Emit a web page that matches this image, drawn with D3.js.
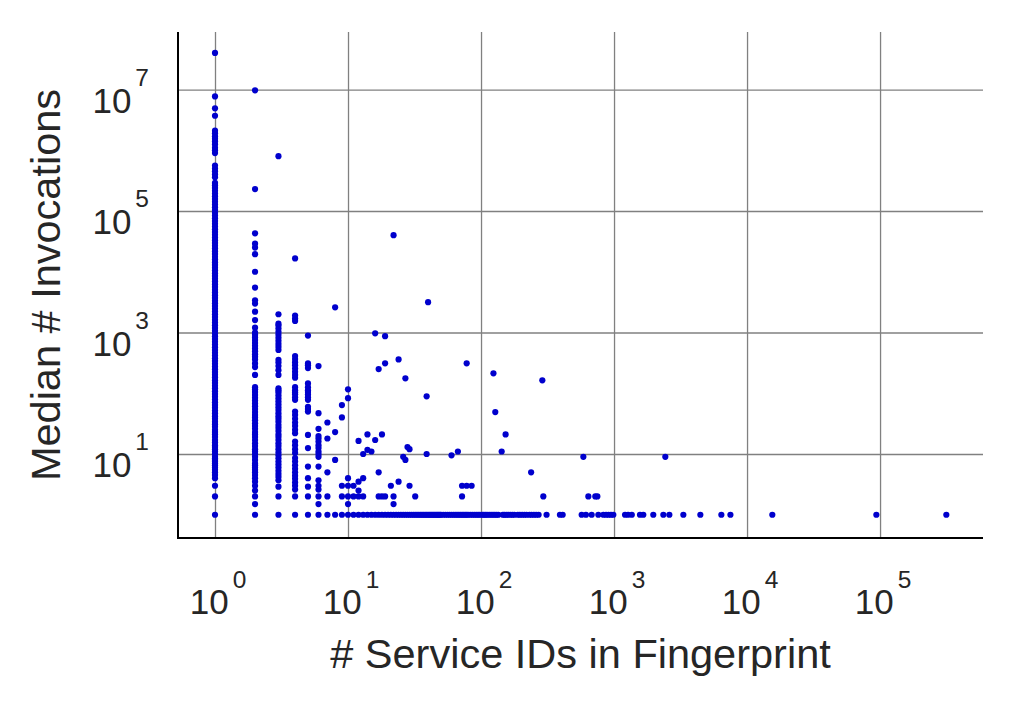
<!DOCTYPE html>
<html><head><meta charset="utf-8">
<script src="https://cdn.jsdelivr.net/npm/d3@7"></script>
<style>
body{margin:0;background:#fff;}
text{font-family:"Liberation Sans",Arial,sans-serif;fill:#262626;}
</style></head>
<body><svg id="chart" width="1012" height="708"></svg>
<script>
// ---- data ----
const xTickExps = [0, 1, 2, 3, 4, 5];
const yTickExps = [1, 3, 5, 7];

// points with y = 1 (bottom row)
const bottomRowX = [1,2,3,4,5,6,7,8,9,10,11,12,13,14,15,16,17,18,19,20,21,22,23,24,25,26,27,28,29,30,31,32,33,34,35,36,37,38,39,40,41,42,43,44,45,46,47,48,49,50,52,54,56,58,60,62,64,66,68,70,72,74,76,78,80,83,86,89,92,95,98,102,105,108,111,115,119,123,127,131,135,146,150,155,160,166,172,178,189,196,204,212,220,231,240,250,260,271,311,392,411,571,615,679,762,831,871,909,949,988,1210,1275,1360,1567,1660,1973,2348,2606,3320,4456,6410,7500,15490,93800,315000];

// columns of the small fingerprint sizes (y values above 1)
const col1Y = [2,3,4,4.5,5,5.5,6,6.5,7,7.5,8,8.5,9,10,11,12,13,14,15.5,17,19,21,23,25,28,31,34,38,42,47,52,58,64,71,79,88,97,108,120,133,148,164,182,202,224,249,276,306,340,377,418,464,515,571,634,703,780,866,961,1066,1183,1313,1457,1617,1794,1991,2209,2451,2720,3018,3349,3716,4124,4576,5078,5635,6253,6939,7700,8545,9482,10522,11676,12957,14378,15955,17705,19647,21802,24193,26846,29791,33058,36684,40707,45172,50126,55624,61725,68495,76008,84344,93595,103860,115250,127890,141920,157490,174760,193930,215000,240000,265000,290000,360000,400000,450000,500000,560000,900000,1000000,1100000,1250000,1400000,1550000,1700000,1900000,2100000,3700000,4900000,7700000,40000000];
const col2Y = [1.5,2,2.5,3,3.5,4,4.5,5,5.5,6,6.5,7,8,9,10,11,12,13.5,15,17,19,21,23,26,29,32,36,40,44,49,55,61,68,76,84,94,105,116,126,200,270,310,360,400,440,490,545,605,675,750,830,920,1000,1200,1600,2200,3000,3400,5500,10000,19500,25000,29000,43000,230000,9700000];
const col3Y = [2,2.9,3.7,4.2,4.7,5.3,6,6.7,7.5,8.5,9.5,10.6,12,13.5,15,17,19,21,24,27,30,34,38,42,47,53,59,66,74,83,93,104,112,121,200,240,280,320,355,515,580,650,730,820,920,1030,1160,1300,1400,2000,800000];
const col4Y = [2,2.6,3,3.4,3.9,4.4,5,5.7,6.5,7.5,8.6,10.4,12,14,16,22,25,29,33,38,44,50,78,86,96,104,112,126,180,200,225,255,290,325,365,410,1550,1700,1900,16600];
const col5Y = [2,2.9,4,6.2,12.5,20.6,50,55,60,78,86,95,105,112,125,145,260,290,310,890];
const col6Y = [1.5,2,2.6,3,3.7,6.2,9,10,11,12.5,14,16,18,19.7,26,47,280];

// scattered points (x, y)
const sparseX = [7,7,7,7,8,8,8,9,9,9,9,10,10,10,10,10,10,11,11,12,12,12,12,13,13,13,14,14,15,16,16,17,17,17,18,18,19,19,19,21,22,22,22,24,24,26,27,27,28,29,29,32,39,39,40,60,67,72,72,78,78,85,124,128,143,153,238,289,294,588,641,723,749,2430];
const sparseY = [2,5,18,33,8,23,2600,2,3,40,64,1.5,2,3,4,83,116,2,3,2,2.5,3.5,16.4,2,4,10,11.7,21,11,17,970,2,5,250,2,21,2,311,870,3,1.5,2,40000,3.5,360,9,8,176,13,3,12,2,10,89,3160,9.5,11,2,3,3,311,3,213,49,11,21,5,163,2,9,2,2,2,9];

const xLabel = "# Service IDs in Fingerprint";
const yLabel = "Median # Invocations";

// ---- build point list ----
const points = [];
bottomRowX.forEach(x => points.push({x, y: 1}));
[[1, col1Y], [2, col2Y], [3, col3Y], [4, col4Y], [5, col5Y], [6, col6Y]].forEach(([x, ys]) => ys.forEach(y => points.push({x, y})));
sparseX.forEach((x, i) => points.push({x, y: sparseY[i]}));

// ---- layout ----
const L = 178, R = 983, T = 32, B = 538;
const svg = d3.select("#chart");
const x = d3.scaleLog().domain([Math.pow(10, -0.2782), Math.pow(10, 5.774)]).range([L, R]);
const y = d3.scaleLog().domain([Math.pow(10, -0.3827), Math.pow(10, 7.947)]).range([B, T]);

// grid
const gx = svg.append("g").attr("transform", `translate(0,${T})`)
  .call(d3.axisBottom(x).tickValues(xTickExps.map(e => Math.pow(10, e))).tickSize(B - T).tickFormat(""));
const gy = svg.append("g").attr("transform", `translate(${R},0)`)
  .call(d3.axisLeft(y).tickValues(yTickExps.map(e => Math.pow(10, e))).tickSize(R - L).tickFormat(""));
[gx, gy].forEach(g => {
  g.select(".domain").remove();
  g.selectAll(".tick line").attr("stroke", "#808080").attr("stroke-width", 1.3);
});

// points
svg.append("g").selectAll("circle").data(points).join("circle")
  .attr("cx", d => x(d.x)).attr("cy", d => y(d.y)).attr("r", 3.1)
  .attr("fill", "#0000cd");

// spines
svg.append("line").attr("x1", L).attr("x2", L).attr("y1", T).attr("y2", B).attr("stroke", "#000").attr("stroke-width", 2);
svg.append("line").attr("x1", L - 1).attr("x2", R).attr("y1", B).attr("y2", B).attr("stroke", "#000").attr("stroke-width", 2);

// tick labels
xTickExps.forEach(e => {
  const t = svg.append("text").attr("x", x(Math.pow(10, e)) + 3).attr("y", 614).attr("text-anchor", "middle").attr("font-size", 35);
  t.append("tspan").text("10");
  t.append("tspan").attr("font-size", 24.5).attr("dx", 4).attr("dy", -26).text(String(e));
});
yTickExps.forEach(e => {
  const t = svg.append("text").attr("x", 149).attr("y", y(Math.pow(10, e)) + 23).attr("text-anchor", "end").attr("font-size", 35);
  t.append("tspan").text("10");
  t.append("tspan").attr("font-size", 24.5).attr("dx", 4).attr("dy", -27).text(String(e));
});

// axis labels
svg.append("text").attr("x", (L + R) / 2).attr("y", 668).attr("text-anchor", "middle").attr("font-size", 41.5).text(xLabel);
svg.append("text").attr("transform", `translate(60,${(T + B) / 2}) rotate(-90)`).attr("text-anchor", "middle").attr("font-size", 41.5).text(yLabel);
</script></body></html>
